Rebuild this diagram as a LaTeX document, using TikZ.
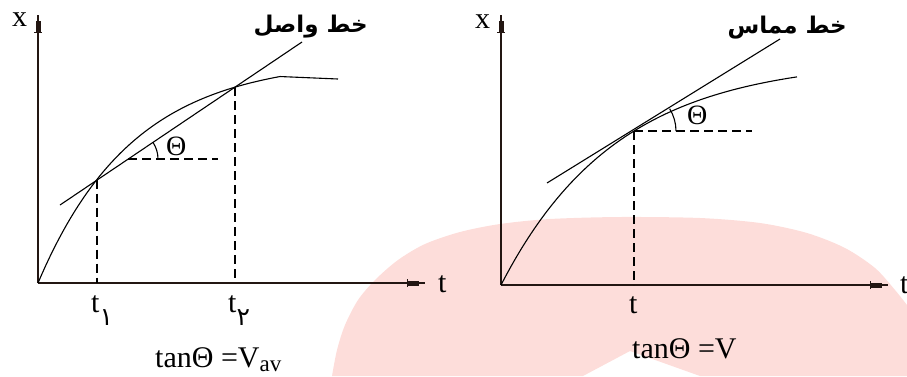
\documentclass[tikz,border=0pt]{standalone}
\usepackage{fontspec}
\setmainfont{Liberation Serif}
\newfontfamily\arabicfont[Script=Arabic]{DejaVu Sans}
\TeXXeTstate=1
\usetikzlibrary{arrows.meta}
\definecolor{blush}{RGB}{253,221,218}
\definecolor{ink}{RGB}{35,22,18}
\newcommand\fadigit[1]{\raisebox{-13pt}{\arabicfont\fontsize{25}{25}\selectfont #1}}

\begin{document}
\begin{tikzpicture}[x=1pt,y=-1pt,
  ax/.style={ink,line width=1.7pt,-{Bar[width=8pt,line width=1.2pt]Rectangle[length=11pt,width=5pt]Rectangle[length=6pt,width=1.4pt]}},
  crv/.style={line width=1.1pt},
  dsh/.style={line width=1.4pt,dash pattern=on 9pt off 5pt},
  lab/.style={font=\fontsize{30}{32}\selectfont,inner sep=0pt,anchor=base west},
  fa/.style={font=\arabicfont\bfseries\fontsize{23}{26}\selectfont,inner sep=0pt,anchor=base east}]
 \useasboundingbox (0,0) rectangle (907,376);
 \fill[blush] plot[smooth] coordinates {(332,376) (337,350) (345,325) (358,300) (375,280) (398,260) (425,244) (460,232) (500,224) (550,219) (620,217) (700,218) (760,223) (807,233) (845,248) (875,268) (895,290) (907,305)}
   -- (907,376) -- (700,376) -- (630,351) -- (583,376) -- cycle;
 % average velocity
 \coordinate (oa) at (38,283);
 \coordinate (ya) at (38,15);
 \coordinate (xa) at (425,283);
 \coordinate (pa) at (97,179.5);
 \coordinate (qa) at (235,87.2);
 \coordinate (ma) at (128,159);
 \coordinate (ha) at (218,159);
 \coordinate (sa) at (60,205);
 \coordinate (ea) at (302,42);
 \coordinate (fa) at (338,79);
 \draw[ax] (oa) -- (ya);
 \draw[ax] (oa) -- (xa);
 \draw[crv] plot[domain=0:242,samples=60] ({38+\x},{283-224*(1-exp(-\x/95))}) -- (fa);
 \draw[crv] (sa) -- (ea);
 \draw[dsh] (pa) -- (pa |- oa);
 \draw[dsh] (qa) -- (qa |- oa);
 \draw[dsh] (ma) -- (ha);
 \draw[crv] (158,159) arc[start angle=0,end angle=34,radius=30pt];
 \node[lab] (xla) at (12,26) {x};
 \node[lab] (tla) at (438,292) {t};
 \node[lab] (ta1) at (91,312) {t\fadigit{۱}};
 \node[lab] (ta2) at (228,312) {t\fadigit{۲}};
 \node[lab,font=\fontsize{28}{30}\selectfont] (tha) at (166,155) {Θ};
 \node[lab] (fa1) at (155,367) {tanΘ =V\raisebox{-4pt}{\fontsize{23}{23}\selectfont av}};
 \node[fa] (wa) at (368,32) {\beginR خط واصل\endR};
 % instantaneous velocity
 \coordinate (ob) at (501,285);
 \coordinate (yb) at (501,15);
 \coordinate (xb) at (888,285);
 \coordinate (pb) at (634,131);
 \coordinate (hb) at (752,131);
 \coordinate (sb) at (547,183);
 \coordinate (eb) at (780,39);
 \draw[ax] (ob) -- (yb);
 \draw[ax] (ob) -- (xb);
 \draw[crv] plot[domain=0:296,samples=60] ({501+\x},{285-225.7*(1-exp(-\x/116))});
 \draw[crv] (sb) -- (eb);
 \draw[dsh] (pb) -- (pb |- ob);
 \draw[dsh] (pb) -- (hb);
 \draw[crv] (676,131) arc[start angle=0,end angle=32,radius=42pt];
 \node[lab] (xlb) at (475,28) {x};
 \node[lab] (tlb) at (900,293) {t};
 \node[lab] (tb) at (629,313) {t};
 \node[lab,font=\fontsize{28}{30}\selectfont] (thb) at (687,124) {Θ};
 \node[lab] (fb1) at (632,358) {tanΘ =V};
 \node[fa] (wb) at (847,33) {\beginR خط مماس\endR};
\end{tikzpicture}
\end{document}
